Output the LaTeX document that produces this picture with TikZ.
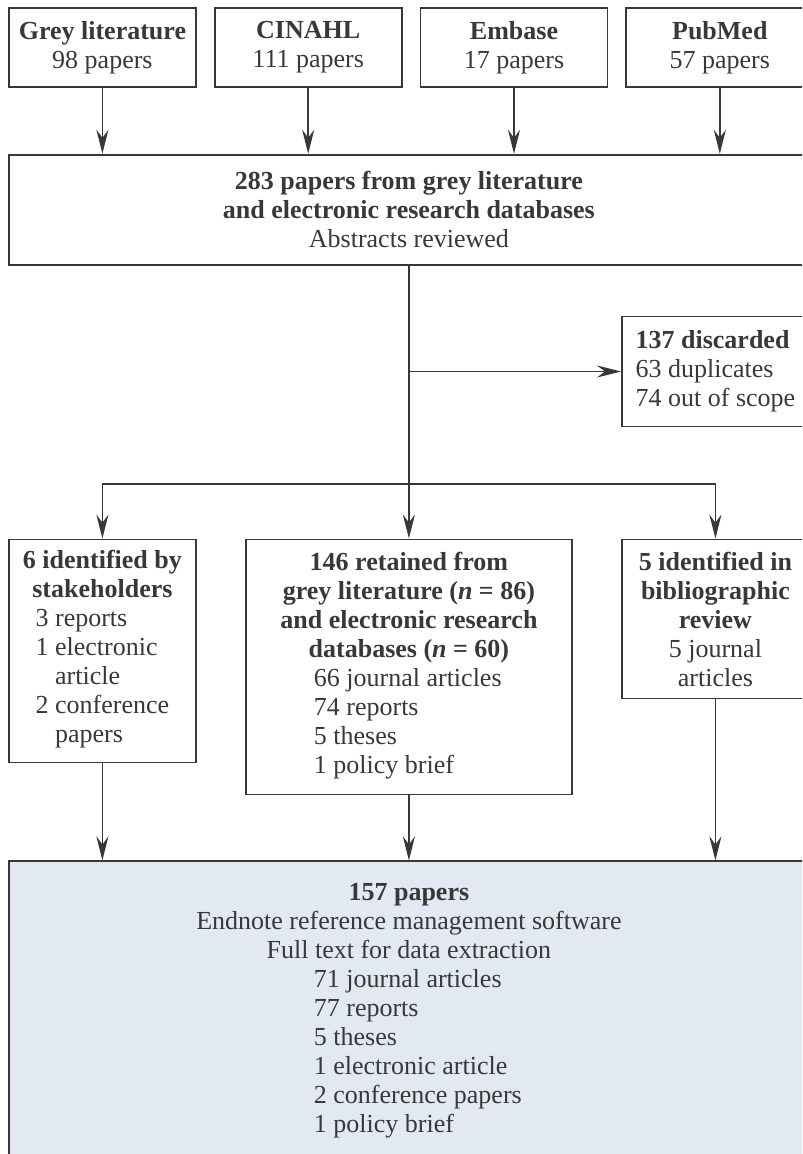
\documentclass[tikz,border=0pt]{standalone}
\usepackage{fontspec}
\setmainfont{Liberation Serif}
\usetikzlibrary{arrows.meta, positioning}
\definecolor{inkgrey}{HTML}{383838}
\definecolor{paleblue}{HTML}{E3E9F2}
\newcommand{\paperlist}[1]{\begin{tabular}[t]{@{}l@{}}#1\end{tabular}}

\begin{document}
\begin{tikzpicture}[
	x=0.5pt, y=-0.5pt,
	font=\fontsize{13}{14.5}\selectfont, text=inkgrey,
	srcbox/.style={rectangle, draw=inkgrey, line width=0.9pt, align=center,
		inner sep=0pt, minimum width=93.5pt, minimum height=39.5pt},
	widebox/.style={rectangle, draw=inkgrey, line width=0.9pt, align=center,
		inner sep=0pt, minimum width=400pt},
	sidebox/.style={rectangle, draw=inkgrey, line width=0.9pt, align=left,
		inner sep=0pt, minimum width=93.5pt, minimum height=55pt},
	stagebox/.style={rectangle, draw=inkgrey, line width=0.9pt, align=center,
		inner sep=0pt, minimum width=93.5pt},
	flow/.style={draw=inkgrey, line width=0.9pt,
		-{Stealth[length=12pt, width=6pt, inset=4pt]}}
	]
	\clip (0,0) rectangle (802,1154);
	
	% Row 1: sources
	\node[srcbox, anchor=north west] (grey) at (8,7) {\textbf{Grey literature}\\98 papers};
	\node[srcbox, right=8.5pt of grey] (cinahl) {\textbf{CINAHL}\\111 papers};
	\node[srcbox, right=8.5pt of cinahl] (embase) {\textbf{Embase}\\17 papers};
	\node[srcbox, right=8.5pt of embase] (pubmed) {\textbf{PubMed}\\57 papers};
	
	% Row 2: pooled papers and discards
	\node[widebox, minimum height=55pt, below=33pt of grey.south west, anchor=north west] (pool)
		{\textbf{283 papers from grey literature}\\\textbf{and electronic research databases}\\Abstracts reviewed};
	\node[sidebox, below=25pt of pool.south east, anchor=north east] (discard)
		{\textbf{137 discarded}\\63 duplicates\\74 out of scope};
	
	% Row 3: retained and added papers
	\node[stagebox, minimum height=111.5pt, below=136.5pt of pool.south west, anchor=north west] (stake)
		{\textbf{6 identified by}\\\textbf{stakeholders}\\
		\paperlist{3 reports\\1 electronic\\\hphantom{1\ }article\\2 conference\\\hphantom{2\ }papers}};
	\node[stagebox, minimum width=163pt, minimum height=127.5pt, below=136.5pt of pool.south] (retained)
		{\textbf{146 retained from}\\\textbf{grey literature (\textit{n} = 86)}\\
		\textbf{and electronic research}\\\textbf{databases (\textit{n} = 60)}\\
		\makebox[95pt][l]{\paperlist{66 journal articles\\74 reports\\5 theses\\1 policy brief}}};
	\node[stagebox, minimum height=79.5pt, below=136.5pt of pool.south east, anchor=north east] (biblio)
		{\textbf{5 identified in}\\\textbf{bibliographic}\\\textbf{review}\\5 journal\\articles};
	
	% Row 4: final set
	\node[widebox, fill=paleblue, minimum height=151pt, below=32.5pt of retained] (final)
		{\textbf{157 papers}\\Endnote reference management software\\Full text for data extraction\\
		\makebox[95pt][l]{\paperlist{71 journal articles\\77 reports\\5 theses\\1 electronic article\\2 conference papers\\1 policy brief}}};
	
	% Arrows from sources to pool
	\foreach \src in {grey, cinahl, embase, pubmed}
		\draw[flow] (\src.south) -- (\src.south |- pool.north);
	
	% Pool to discards and to row 3
	\draw[flow] (pool.south) -- (retained.north);
	\draw[flow] (pool.south |- discard.west) -- (discard.west);
	\coordinate[below=109pt of pool.south] (split);
	\draw[flow] (split) -| (stake.north);
	\draw[flow] (split) -| (biblio.north);
	
	% Row 3 to final set
	\draw[flow] (stake.south) -- (stake.south |- final.north);
	\draw[flow] (retained) -- (final);
	\draw[flow] (biblio.south) -- (biblio.south |- final.north);
	
\end{tikzpicture}
\end{document}
